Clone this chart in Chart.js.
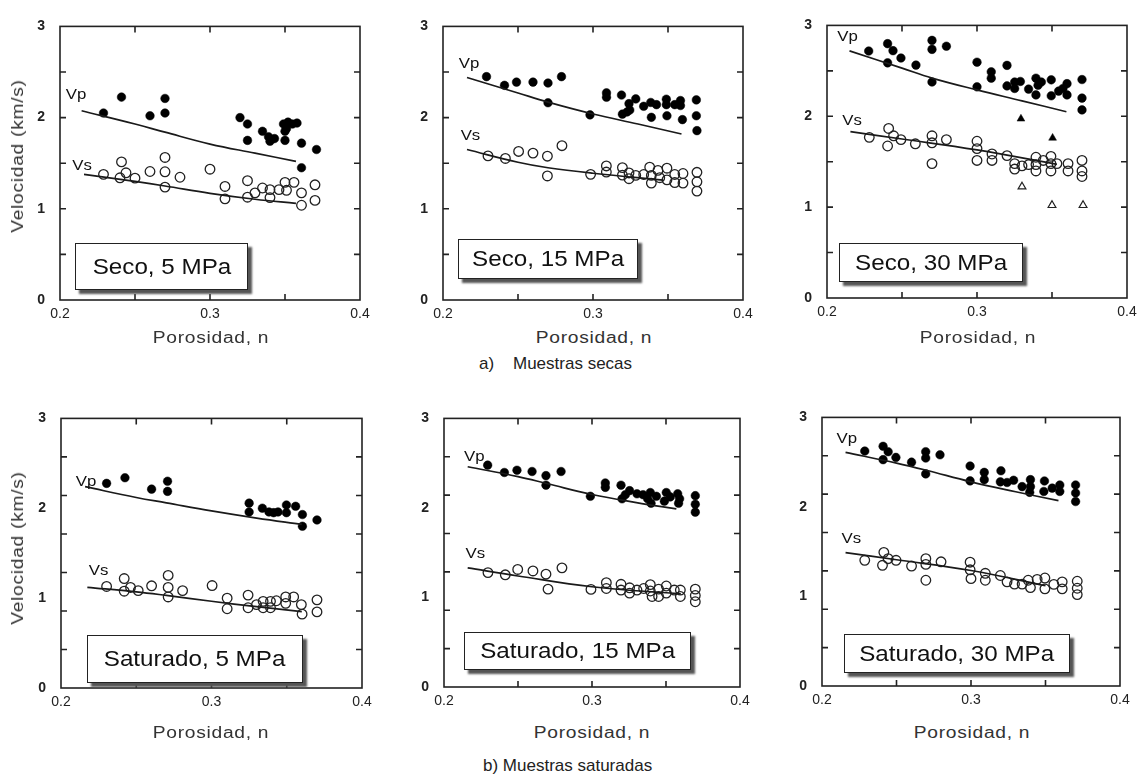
<!DOCTYPE html>
<html>
<head>
<meta charset="utf-8">
<script src="https://cdn.jsdelivr.net/npm/chart.js@4.4.0/dist/chart.umd.min.js"></script>
<style>
  body { margin: 0; background: #fff; width: 1143px; height: 782px; overflow: hidden; position: relative;
         font-family: "Liberation Sans", Arial, sans-serif; color: #222; }
  canvas { position: absolute; }
  .tag { position: absolute; background: #fff; border: 1.5px solid #222; box-shadow: 4px 4px 2px #555;
         display: flex; align-items: center; justify-content: center; font-size: 22px; color: #111; box-sizing: border-box; }
  .tag span { display: inline-block; transform: scaleX(1.1); white-space: nowrap; }
  .xt { position: absolute; font-size: 16px; letter-spacing: 0.6px; transform: translate(-50%, -50%) scaleX(1.2); white-space: nowrap; color: #333; }
  .yt { position: absolute; font-size: 16px; letter-spacing: 0.6px; transform: translate(-50%, -50%) rotate(-90deg) scaleX(1.2); white-space: nowrap; color: #333; }
  .cap { position: absolute; font-size: 17px; transform: translateY(-50%); white-space: pre; color: #222; }
</style>
</head>
<body>

<script>
// ---- datos (porosidad n, velocidad km/s) ----
const xLabelVals = [0.2, 0.3, 0.4];
const xMarks = [0.25, 0.3, 0.35];
const yLabelVals = [0, 1, 2, 3];
const yMarksSeco = [0.5, 1, 1.5, 2, 2.5];
const yMarksSat = [3/7, 6/7, 9/7, 12/7, 15/7, 18/7];

// Seco, 5 MPa
const vpSeco5 = [[0.229,2.05],[0.241,2.225],[0.260,2.02],[0.270,2.21],[0.270,2.05],[0.320,2.00],[0.325,1.93],[0.325,1.75],[0.335,1.85],[0.339,1.79],[0.340,1.74],[0.343,1.77],[0.349,1.93],[0.355,1.93],[0.351,1.88],[0.350,1.85],[0.350,1.75],[0.352,1.95],[0.358,1.94],[0.361,1.72],[0.371,1.65],[0.361,1.45]];
const vsSeco5 = [[0.229,1.378],[0.241,1.514],[0.240,1.34],[0.244,1.395],[0.250,1.336],[0.260,1.409],[0.270,1.563],[0.270,1.406],[0.270,1.238],[0.280,1.346],[0.300,1.434],[0.310,1.245],[0.310,1.109],[0.325,1.308],[0.325,1.127],[0.330,1.175],[0.335,1.228],[0.340,1.21],[0.340,1.123],[0.346,1.21],[0.350,1.29],[0.351,1.203],[0.356,1.29],[0.361,1.175],[0.361,1.039],[0.370,1.263],[0.370,1.092]];
const fitVpSeco5 = [[0.2144,2.075],[0.25,1.93],[0.27,1.84],[0.30,1.71],[0.33,1.61],[0.3573,1.52]];
const fitVsSeco5 = [[0.216,1.378],[0.25,1.30],[0.27,1.25],[0.30,1.17],[0.33,1.105],[0.3573,1.06]];

// Seco, 15 MPa
const vpSeco15 = [[0.229,2.449],[0.241,2.354],[0.249,2.389],[0.260,2.389],[0.270,2.379],[0.279,2.449],[0.270,2.163],[0.298,2.03],[0.309,2.271],[0.309,2.223],[0.319,2.247],[0.3285,2.205],[0.324,2.153],[0.3196,2.038],[0.3227,2.062],[0.3245,2.083],[0.3338,2.124],[0.3385,2.166],[0.3423,2.142],[0.3389,2.003],[0.3489,2.202],[0.3489,2.142],[0.3493,2.02],[0.3545,2.142],[0.3583,2.187],[0.3583,2.132],[0.3596,1.978],[0.3689,2.194],[0.3689,2.02],[0.3693,1.857]];
const vsSeco15 = [[0.230,1.58],[0.2416,1.552],[0.2504,1.629],[0.260,1.611],[0.2696,1.577],[0.2696,1.36],[0.2793,1.692],[0.2984,1.378],[0.3089,1.47],[0.3089,1.403],[0.3196,1.452],[0.3196,1.369],[0.324,1.393],[0.324,1.33],[0.3285,1.366],[0.3338,1.376],[0.3378,1.456],[0.3389,1.366],[0.3389,1.282],[0.3433,1.421],[0.3445,1.341],[0.3493,1.445],[0.3493,1.317],[0.3545,1.376],[0.3545,1.288],[0.36,1.387],[0.36,1.282],[0.3693,1.40],[0.3693,1.296],[0.3693,1.194]];
const fitVpSeco15 = [[0.216,2.44],[0.25,2.27],[0.27,2.17],[0.30,2.04],[0.33,1.93],[0.359,1.82]];
const fitVsSeco15 = [[0.216,1.65],[0.25,1.51],[0.27,1.45],[0.30,1.39],[0.3467,1.315]];

// Seco, 30 MPa
const vpSeco30 = [[0.2278,2.718],[0.2404,2.799],[0.2404,2.588],[0.244,2.722],[0.2493,2.641],[0.2593,2.563],[0.27,2.835],[0.27,2.736],[0.27,2.377],[0.2796,2.771],[0.30,2.595],[0.30,2.324],[0.32,2.56],[0.3095,2.489],[0.3095,2.419],[0.32,2.334],[0.3251,2.377],[0.3251,2.306],[0.3289,2.383],[0.3344,2.299],[0.3393,2.419],[0.3393,2.235],[0.3407,2.341],[0.3429,2.377],[0.3495,2.401],[0.3495,2.225],[0.3544,2.277],[0.3573,2.306],[0.36,2.359],[0.36,2.235],[0.37,2.404],[0.37,2.2],[0.37,2.07]];
const vsSeco30 = [[0.2282,1.768],[0.2411,1.866],[0.2404,1.673],[0.2444,1.785],[0.2493,1.743],[0.2589,1.697],[0.27,1.785],[0.27,1.708],[0.27,1.479],[0.2796,1.743],[0.30,1.725],[0.30,1.644],[0.30,1.514],[0.31,1.585],[0.31,1.514],[0.32,1.567],[0.3251,1.479],[0.3251,1.419],[0.33,1.454],[0.3344,1.468],[0.3393,1.549],[0.3393,1.468],[0.3393,1.398],[0.3442,1.514],[0.3493,1.559],[0.3493,1.479],[0.3493,1.398],[0.3533,1.479],[0.3607,1.479],[0.3607,1.398],[0.37,1.514],[0.37,1.398],[0.37,1.337]];
const triVpSeco30 = [[0.3293,1.972],[0.3504,1.761]];
const triVsSeco30 = [[0.33,1.225],[0.35,1.021],[0.3707,1.021]];
const fitVpSeco30 = [[0.215,2.72],[0.25,2.53],[0.27,2.42],[0.30,2.29],[0.33,2.17],[0.3596,2.05]];
const fitVsSeco30 = [[0.2156,1.83],[0.25,1.75],[0.30,1.63],[0.3533,1.47]];

// Saturado, 5 MPa
const vpSat5 = [[0.2303,2.277],[0.2425,2.34],[0.2602,2.213],[0.2708,2.301],[0.2708,2.188],[0.325,2.057],[0.325,1.959],[0.3338,2.001],[0.3382,1.959],[0.3413,1.951],[0.3442,1.959],[0.3498,2.036],[0.3498,1.951],[0.3559,2.022],[0.3604,1.93],[0.3604,1.80],[0.3701,1.87]];
const vsSat5 = [[0.2303,1.13],[0.242,1.218],[0.242,1.077],[0.2462,1.119],[0.2513,1.084],[0.2602,1.137],[0.2712,1.253],[0.2712,1.119],[0.2712,1.013],[0.2808,1.084],[0.3004,1.14],[0.3104,0.999],[0.3104,0.882],[0.3243,1.034],[0.3243,0.893],[0.3299,0.928],[0.3343,0.964],[0.3343,0.893],[0.3392,0.964],[0.3392,0.893],[0.3431,0.971],[0.3493,1.013],[0.3493,0.942],[0.3546,1.013],[0.3597,0.928],[0.3602,0.822],[0.3701,0.981],[0.3701,0.847]];
const fitVpSat5 = [[0.216,2.24],[0.25,2.12],[0.27,2.06],[0.30,1.97],[0.33,1.89],[0.36,1.82]];
const fitVsSat5 = [[0.2175,1.12],[0.25,1.07],[0.27,1.03],[0.30,0.965],[0.33,0.905],[0.36,0.85]];

// Saturado, 15 MPa
const vpSat15 = [[0.2295,2.478],[0.2408,2.396],[0.2493,2.421],[0.2595,2.407],[0.2689,2.361],[0.2689,2.254],[0.2791,2.407],[0.2989,2.13],[0.309,2.279],[0.309,2.23],[0.3196,2.254],[0.3254,2.193],[0.3225,2.148],[0.3203,2.102],[0.3304,2.158],[0.3345,2.148],[0.3394,2.172],[0.3376,2.102],[0.3399,2.052],[0.3435,2.13],[0.3502,2.172],[0.3529,2.123],[0.3489,2.076],[0.3579,2.158],[0.3592,2.102],[0.3585,2.052],[0.3698,2.137],[0.3698,2.041],[0.3698,1.953]];
const vsSat15 = [[0.2297,1.278],[0.2414,1.253],[0.2498,1.313],[0.2601,1.296],[0.2689,1.26],[0.2703,1.093],[0.2797,1.331],[0.2993,1.09],[0.3097,1.165],[0.3097,1.10],[0.3196,1.147],[0.3196,1.083],[0.3254,1.108],[0.3254,1.048],[0.3304,1.083],[0.3349,1.10],[0.3394,1.143],[0.3394,1.072],[0.3406,1.011],[0.345,1.093],[0.345,1.011],[0.3502,1.128],[0.3502,1.048],[0.3556,1.083],[0.3597,1.083],[0.3597,1.011],[0.3698,1.093],[0.3698,1.022],[0.3698,0.952]];
const fitVpSat15 = [[0.216,2.46],[0.25,2.35],[0.27,2.27],[0.30,2.15],[0.33,2.06],[0.357,1.99]];
const fitVsSat15 = [[0.216,1.33],[0.25,1.24],[0.30,1.12],[0.36,1.04]];

// Saturado, 30 MPa
const vpSat30 = [[0.2287,2.624],[0.241,2.677],[0.241,2.528],[0.2444,2.617],[0.2496,2.553],[0.2601,2.50],[0.2696,2.617],[0.2696,2.546],[0.2696,2.369],[0.2792,2.582],[0.2994,2.457],[0.2994,2.291],[0.3089,2.386],[0.3089,2.305],[0.3201,2.404],[0.3197,2.28],[0.3242,2.273],[0.3286,2.298],[0.3343,2.227],[0.3399,2.305],[0.3399,2.227],[0.3394,2.163],[0.3493,2.29],[0.3489,2.173],[0.3545,2.21],[0.3596,2.245],[0.3596,2.173],[0.3702,2.245],[0.3702,2.156],[0.3702,2.06]];
const vsSat30 = [[0.2287,1.404],[0.2415,1.493],[0.2406,1.348],[0.2444,1.422],[0.2497,1.404],[0.2601,1.34],[0.2697,1.422],[0.2697,1.358],[0.2697,1.181],[0.2799,1.387],[0.2994,1.383],[0.2994,1.298],[0.30,1.199],[0.3096,1.259],[0.3096,1.181],[0.3197,1.234],[0.3242,1.163],[0.3292,1.138],[0.3343,1.138],[0.3384,1.181],[0.3399,1.099],[0.3444,1.191],[0.3496,1.206],[0.3496,1.085],[0.3556,1.135],[0.3612,1.163],[0.3612,1.085],[0.3713,1.17],[0.3713,1.092],[0.3713,1.021]];
const fitVpSat30 = [[0.2158,2.61],[0.25,2.49],[0.27,2.41],[0.30,2.28],[0.33,2.17],[0.3587,2.07]];
const fitVsSat30 = [[0.2158,1.49],[0.25,1.41],[0.30,1.29],[0.35,1.12]];

// ---- paneles (posicion del recuadro en la pagina: left, top, width, height) ----
const panels = [
  { box: [60, 13, 300, 287], vp: vpSeco5, vs: vsSeco5, fitVp: fitVpSeco5, fitVs: fitVsSeco5, yMarks: yMarksSeco,
    name: 'Seco, 5 MPa', tagBox: [75, 243, 173, 47], vpAt: [0.2107, 2.247], vsAt: [0.2147, 1.47], yTitle: 156, xTitle: [211, 338] },
  { box: [443, 13, 300, 287], vp: vpSeco15, vs: vsSeco15, fitVp: fitVpSeco15, fitVs: fitVsSeco15, yMarks: yMarksSeco,
    name: 'Seco, 15 MPa', tagBox: [458, 239, 180, 40], vpAt: [0.2173, 2.584], vsAt: [0.2183, 1.794], xTitle: [594, 338] },
  { box: [827, 12, 300, 286], vp: vpSeco30, vs: vsSeco30, fitVp: fitVpSeco30, fitVs: fitVsSeco30, yMarks: yMarksSeco,
    triVp: triVpSeco30, triVs: triVsSeco30,
    name: 'Seco, 30 MPa', tagBox: [839, 243, 184, 39], vpAt: [0.2137, 2.87], vsAt: [0.2167, 1.947], xTitle: [978, 338] },
  { box: [61, 405, 301, 283], vp: vpSat5, vs: vsSat5, fitVp: fitVpSat5, fitVs: fitVsSat5, yMarks: yMarksSat,
    name: 'Saturado, 5 MPa', tagBox: [87, 635, 216, 48], vpAt: [0.2166, 2.293], vsAt: [0.225, 1.30], yTitle: 548, xTitle: [211, 733] },
  { box: [444, 405, 296, 282], vp: vpSat15, vs: vsSat15, fitVp: fitVpSat15, fitVs: fitVsSat15, yMarks: yMarksSat,
    name: 'Saturado, 15 MPa', tagBox: [464, 632, 227, 38], vpAt: [0.2205, 2.563], vsAt: [0.2212, 1.484], xTitle: [592, 733] },
  { box: [822, 404, 298, 282], vp: vpSat30, vs: vsSat30, fitVp: fitVpSat30, fitVs: fitVsSat30, yMarks: yMarksSat,
    name: 'Saturado, 30 MPa', tagBox: [844, 634, 226, 39], vpAt: [0.2167, 2.759], vsAt: [0.2197, 1.641], xTitle: [972, 733] }
];

const FONT = '"Liberation Sans", Arial, sans-serif';
const toXY = arr => arr.map(p => ({ x: p[0], y: p[1] }));

function makeFrame(p) {
  return {
    id: 'frame',
    beforeDatasetsDraw(chart) {
      const { ctx, chartArea: a, scales: { x, y } } = chart;
      ctx.save();
      ctx.strokeStyle = '#222';
      ctx.lineWidth = 1.6;
      ctx.strokeRect(a.left, a.top, a.right - a.left, a.bottom - a.top);
      ctx.beginPath();
      xMarks.forEach(v => {
        const px = x.getPixelForValue(v);
        ctx.moveTo(px, a.top); ctx.lineTo(px, a.top + 6);
        ctx.moveTo(px, a.bottom); ctx.lineTo(px, a.bottom - 6);
      });
      p.yMarks.forEach(v => {
        const py = y.getPixelForValue(v);
        ctx.moveTo(a.left, py); ctx.lineTo(a.left + 6, py);
        ctx.moveTo(a.right, py); ctx.lineTo(a.right - 6, py);
      });
      ctx.stroke();
      ctx.restore();
    },
    afterDatasetsDraw(chart) {
      const { ctx, scales: { x, y } } = chart;
      ctx.save();
      ctx.fillStyle = '#111';
      ctx.font = '14px ' + FONT;
      ctx.textAlign = 'center';
      ctx.textBaseline = 'middle';
      [['Vp', p.vpAt], ['Vs', p.vsAt]].forEach(([t, at]) => {
        ctx.save();
        ctx.translate(x.getPixelForValue(at[0]), y.getPixelForValue(at[1]));
        ctx.scale(1.2, 1);
        ctx.fillText(t, 0, 0);
        ctx.restore();
      });
      ctx.restore();
    }
  };
}

panels.forEach(p => {
  const [bl, bt, bw, bh] = p.box;
  const padL = 44, padT = 10, padR = 16, padB = 28;
  const cv = document.createElement('canvas');
  cv.width = bw + padL + padR;
  cv.height = bh + padT + padB;
  cv.style.left = (bl - padL) + 'px';
  cv.style.top = (bt - padT) + 'px';
  cv.style.width = cv.width + 'px';
  cv.style.height = cv.height + 'px';
  document.body.appendChild(cv);

  const datasets = [
    { type: 'line', data: toXY(p.fitVp), borderColor: '#1a1a1a', borderWidth: 1.7, pointRadius: 0, tension: 0.4, fill: false },
    { type: 'line', data: toXY(p.fitVs), borderColor: '#1a1a1a', borderWidth: 1.7, pointRadius: 0, tension: 0.4, fill: false },
    { data: toXY(p.vp), pointStyle: 'circle', pointRadius: 4.3, backgroundColor: '#000', borderColor: '#000', borderWidth: 0.5 },
    { data: toXY(p.vs), pointStyle: 'circle', pointRadius: 4.8, backgroundColor: 'rgba(255,255,255,0)', borderColor: '#222', borderWidth: 1.3 }
  ];
  if (p.triVp) datasets.push({ data: toXY(p.triVp), pointStyle: 'triangle', pointRadius: 4.5, backgroundColor: '#000', borderColor: '#000', borderWidth: 0.5 });
  if (p.triVs) datasets.push({ data: toXY(p.triVs), pointStyle: 'triangle', pointRadius: 4.5, backgroundColor: '#fff', borderColor: '#222', borderWidth: 1.2 });

  new Chart(cv.getContext('2d'), {
    type: 'scatter',
    data: { datasets: datasets },
    options: {
      responsive: false,
      animation: false,
      events: [],
      layout: { padding: { top: padT, right: padR, left: 0, bottom: 0 } },
      plugins: { legend: { display: false }, tooltip: { enabled: false } },
      scales: {
        x: {
          type: 'linear', min: 0.2, max: 0.4,
          afterBuildTicks: s => { s.ticks = xLabelVals.map(v => ({ value: v })); },
          afterFit: s => { s.height = padB; },
          grid: { display: false, drawTicks: false },
          border: { display: false },
          ticks: { padding: 6, color: '#222', font: { family: FONT, size: 14 }, maxRotation: 0,
                   callback: v => v.toFixed(1) }
        },
        y: {
          type: 'linear', min: 0, max: 3,
          afterBuildTicks: s => { s.ticks = yLabelVals.map(v => ({ value: v })); },
          afterFit: s => { s.width = padL; },
          grid: { display: false, drawTicks: false },
          border: { display: false },
          ticks: { padding: 15, color: '#222', font: { family: FONT, size: 14, weight: 'bold' },
                   callback: v => String(v) }
        }
      }
    },
    plugins: [makeFrame(p)]
  });

  const tag = document.createElement('div');
  tag.className = 'tag';
  tag.style.left = p.tagBox[0] + 'px';
  tag.style.top = p.tagBox[1] + 'px';
  tag.style.width = p.tagBox[2] + 'px';
  tag.style.height = p.tagBox[3] + 'px';
  tag.innerHTML = '<span>' + p.name + '</span>';
  document.body.appendChild(tag);

  const xt = document.createElement('div');
  xt.className = 'xt';
  xt.style.left = p.xTitle[0] + 'px';
  xt.style.top = p.xTitle[1] + 'px';
  xt.textContent = 'Porosidad, n';
  document.body.appendChild(xt);

  if (p.yTitle) {
    const yt = document.createElement('div');
    yt.className = 'yt';
    yt.style.left = '18px';
    yt.style.top = p.yTitle + 'px';
    yt.textContent = 'Velocidad (km/s)';
    document.body.appendChild(yt);
  }
});

const capA = document.createElement('div');
capA.className = 'cap';
capA.style.left = '479px';
capA.style.top = '364px';
capA.textContent = 'a)    Muestras secas';
document.body.appendChild(capA);

const capB = document.createElement('div');
capB.className = 'cap';
capB.style.left = '483px';
capB.style.top = '766px';
capB.textContent = 'b) Muestras saturadas';
document.body.appendChild(capB);
</script>
</body>
</html>
